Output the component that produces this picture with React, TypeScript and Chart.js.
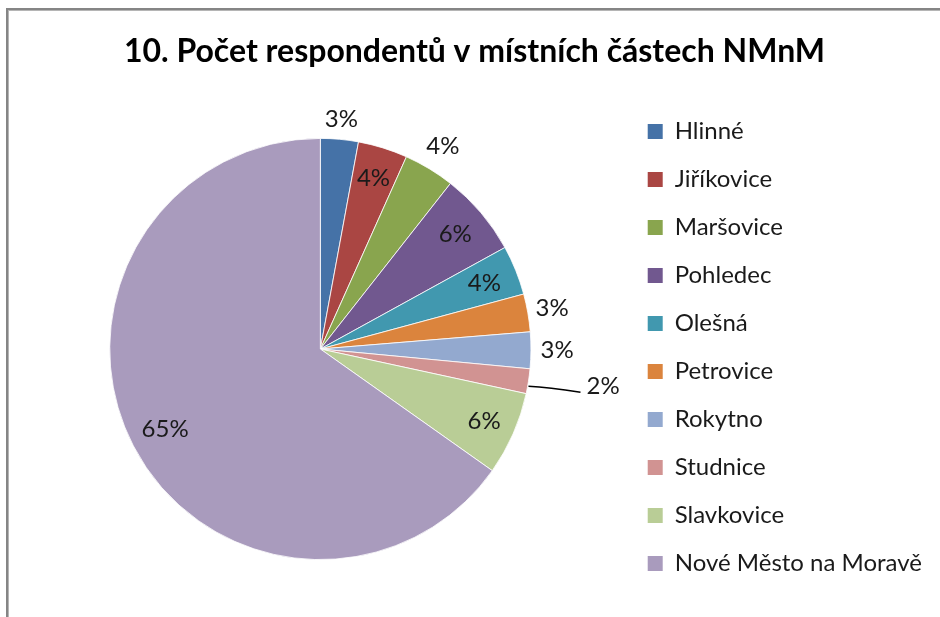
import React, { useEffect, useRef } from "react";
import { Chart, registerables } from "chart.js";

Chart.register(...registerables);

const TITLE = "10. Počet respondentů v místních částech NMnM";
const categories = [
  "Hlinné",
  "Jiříkovice",
  "Maršovice",
  "Pohledec",
  "Olešná",
  "Petrovice",
  "Rokytno",
  "Studnice",
  "Slavkovice",
  "Nové Město na Moravě",
];
const shares = [2.9, 3.8, 3.9, 6.4, 3.8, 2.9, 2.8, 1.9, 6.4, 65.2];
const colors = [
  "#4572A7",
  "#AA4643",
  "#89A54E",
  "#71588F",
  "#4198AF",
  "#DB843D",
  "#93A9CF",
  "#D19392",
  "#B9CD96",
  "#A99BBD",
];
// label placement: fraction of radius along the slice's mid-angle
const labelRadius = [1.095, 0.85, 1.125, 0.84, 0.84, 1.117, 1.124, 1.25, 0.85, 0.83];
const leaderLine = [false, false, false, false, false, false, false, true, false, false];

const FONT = "Lato, 'Open Sans', sans-serif";

const labelPlugin = {
  id: "sliceLabels",
  afterDatasetsDraw(chart: any) {
    const ctx = chart.ctx;
    const meta = chart.getDatasetMeta(0);
    const data = chart.data.datasets[0].data as number[];
    const total = data.reduce((a, b) => a + b, 0);
    ctx.save();
    ctx.font = `24px ${FONT}`;
    ctx.fillStyle = "#1a1a1a";
    ctx.textBaseline = "middle";
    meta.data.forEach((arc: any, i: number) => {
      const { startAngle, endAngle, outerRadius, x, y } = arc.getProps(
        ["startAngle", "endAngle", "outerRadius", "x", "y"],
        true
      );
      const mid = (startAngle + endAngle) / 2;
      const f = labelRadius[i];
      const txt = Math.round((data[i] / total) * 100) + "%";
      const px = x + Math.cos(mid) * outerRadius * f;
      const py = y + Math.sin(mid) * outerRadius * f;
      if (leaderLine[i]) {
        const sx = x + Math.cos(mid) * outerRadius;
        const sy = y + Math.sin(mid) * outerRadius;
        ctx.beginPath();
        ctx.strokeStyle = "#000";
        ctx.lineWidth = 1.5;
        ctx.moveTo(sx, sy + 5);
        ctx.quadraticCurveTo(sx + 20, sy + 6, px, py + 3);
        ctx.stroke();
        ctx.textAlign = "left";
        ctx.fillText(txt, px + 6, py - 3);
      } else {
        ctx.textAlign = "center";
        ctx.fillText(txt, px, py);
      }
    });
    ctx.restore();
  },
};

export default function App() {
  const ref = useRef<HTMLCanvasElement | null>(null);
  useEffect(() => {
    if (!ref.current) return;
    const baseGen = (Chart as any).overrides.doughnut.plugins.legend.labels.generateLabels;
    const chart = new Chart(ref.current, {
      type: "pie",
      data: {
        labels: categories,
        datasets: [
          {
            data: shares,
            backgroundColor: colors,
            borderColor: "#ffffff",
            borderWidth: 0.8,
          },
        ],
      },
      options: {
        responsive: false,
        animation: false,
        layout: { padding: { left: 17, right: 8, top: 78, bottom: 0 } },
        plugins: {
          tooltip: { enabled: false },
          title: {
            display: true,
            text: TITLE,
            color: "#000",
            font: { family: FONT, size: 32, weight: "bold", lineHeight: 1.2 },
            padding: { top: -45.2, bottom: 66.8 },
          },
          subtitle: {
            display: true,
            position: "bottom",
            text: "",
            font: { size: 10, lineHeight: 1 },
            padding: { top: 0, bottom: 47 },
          },
          legend: {
            position: "right",
            labels: {
              color: "#1a1a1a",
              font: { family: FONT, size: 24 },
              boxWidth: 15,
              boxHeight: 15,
              padding: 24,
              generateLabels: (c: any) =>
                baseGen(c).map((l: any) => ({ ...l, lineWidth: 0, strokeStyle: "transparent" })),
            },
          },
        },
      },
      plugins: [labelPlugin],
    });
    return () => chart.destroy();
  }, []);
  return (
    <div style={{ position: "absolute", left: 0, top: 0, width: 940, height: 617, background: "#fff" }}>
      <canvas ref={ref} width={940} height={617} style={{ position: "absolute", left: 0, top: 0 }} />
      <div
        style={{
          position: "absolute",
          left: 6,
          top: 8,
          width: 1000,
          height: 700,
          borderLeft: "2px solid #858585",
          borderTop: "2px solid #858585",
          boxShadow: "inset 1px 1px 0 #b5b5b5",
          pointerEvents: "none",
        }}
      />
    </div>
  );
}
